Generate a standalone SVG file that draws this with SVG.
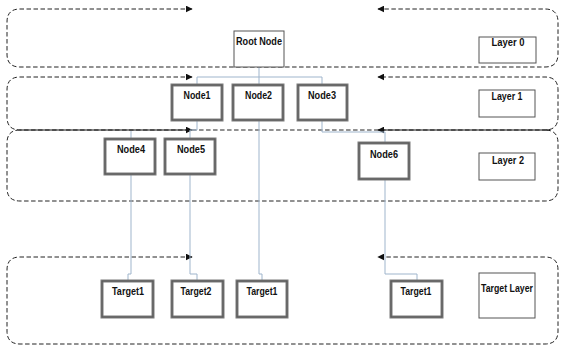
<svg xmlns="http://www.w3.org/2000/svg" width="561" height="345" viewBox="0 0 561 345">
<defs>
<marker id="ah" viewBox="0 0 10 10" refX="9" refY="5" markerWidth="7" markerHeight="7" markerUnits="userSpaceOnUse" orient="auto-start-reverse">
<path d="M0,0 L10,5 L0,10 Z" fill="#111"/>
</marker>
<style>
.layer{fill:none;stroke:#222;stroke-width:1;stroke-dasharray:4.5,2.5}
.solid{fill:none;stroke:#111;stroke-width:1}
.box{fill:#fff;stroke:#555;stroke-width:1}
.node{fill:#fff;stroke:#7a7a7a;stroke-width:3}
.nodein{fill:none;stroke:#444;stroke-width:0.6}
.conn{fill:none;stroke:#9fb5cc;stroke-width:1}
text{font-family:"Liberation Sans",Arial,sans-serif;font-weight:bold;font-size:11.5px;fill:#111;text-anchor:middle}
</style>
</defs>
<rect width="561" height="345" fill="#fff"/>
<g id="layers">
<path class="layer" d="M192,9 H20 Q7,9 7,22 V54 Q7,67 20,67 H545 Q558,67 558,54 V22 Q558,9 545,9 H378" marker-start="url(#ah)" marker-end="url(#ah)"/>
<path class="layer" d="M192,77 H20 Q7,77 7,90 V117 Q7,130 20,130 H545 Q558,130 558,117 V90 Q558,77 545,77 H378" marker-start="url(#ah)" marker-end="url(#ah)"/>
<path class="layer" d="M20,130 Q7,130 7,143 V188 Q7,201 20,201 H545 Q558,201 558,188 V143 Q558,130 545,130"/>
<path class="solid" d="M20,130 H192" marker-end="url(#ah)"/>
<path class="solid" d="M550,130 H378" marker-end="url(#ah)"/>
<path class="layer" d="M192,257 H20 Q7,257 7,270 V331 Q7,344 20,344 H545 Q558,344 558,331 V270 Q558,257 545,257 H378" marker-start="url(#ah)" marker-end="url(#ah)"/>
</g>
<g id="connectors">
<path class="conn" d="M259,67 V85"/>
<path class="conn" d="M197,85 V77 H322 V85"/>
<path class="conn" d="M197,120 V130 H190 V139"/>
<path class="conn" d="M131,131 V139"/>
<path class="conn" d="M322,120 V132 H385 V143"/>
<path class="conn" d="M131,174 V274 H128 V281"/>
<path class="conn" d="M190,174 V274 H197 V281"/>
<path class="conn" d="M259,120 V274 H262 V281"/>
<path class="conn" d="M385,179 V274 H417 V281"/>
</g>
<g id="root"><rect class="box" x="234" y="31" width="50" height="36"/><text x="259" y="45" textLength="46" lengthAdjust="spacingAndGlyphs">Root Node</text></g>
<g id="layer0"><rect class="box" x="479" y="37" width="57" height="26"/><text x="508" y="46" textLength="33" lengthAdjust="spacingAndGlyphs">Layer 0</text></g>
<g id="layer1"><rect class="box" x="479" y="90" width="56" height="27"/><text x="507" y="100" textLength="31" lengthAdjust="spacingAndGlyphs">Layer 1</text></g>
<g id="layer2"><rect class="box" x="479" y="153" width="56" height="27"/><text x="508" y="164" textLength="32" lengthAdjust="spacingAndGlyphs">Layer 2</text></g>
<g id="targetlayer"><rect class="box" x="479" y="273" width="56" height="45"/><text x="507" y="292" textLength="52" lengthAdjust="spacingAndGlyphs">Target Layer</text></g>
<g id="node1"><rect class="node" x="172" y="85" width="50" height="35"/><rect class="nodein" x="172" y="85" width="50" height="35"/><text x="197" y="99" textLength="27" lengthAdjust="spacingAndGlyphs">Node1</text></g>
<g id="node2"><rect class="node" x="233" y="85" width="50" height="35"/><rect class="nodein" x="233" y="85" width="50" height="35"/><text x="258.5" y="99" textLength="27" lengthAdjust="spacingAndGlyphs">Node2</text></g>
<g id="node3"><rect class="node" x="298" y="85" width="49" height="35"/><rect class="nodein" x="298" y="85" width="49" height="35"/><text x="322" y="99" textLength="28" lengthAdjust="spacingAndGlyphs">Node3</text></g>
<g id="node4"><rect class="node" x="105" y="139" width="50" height="35"/><rect class="nodein" x="105" y="139" width="50" height="35"/><text x="131" y="153" textLength="28" lengthAdjust="spacingAndGlyphs">Node4</text></g>
<g id="node5"><rect class="node" x="165" y="139" width="50" height="35"/><rect class="nodein" x="165" y="139" width="50" height="35"/><text x="191" y="153" textLength="28" lengthAdjust="spacingAndGlyphs">Node5</text></g>
<g id="node6"><rect class="node" x="359" y="143" width="50" height="36"/><rect class="nodein" x="359" y="143" width="50" height="36"/><text x="384" y="158" textLength="28" lengthAdjust="spacingAndGlyphs">Node6</text></g>
<g id="target1a"><rect class="node" x="102" y="281" width="51" height="36"/><rect class="nodein" x="102" y="281" width="51" height="36"/><text x="128" y="295" textLength="32" lengthAdjust="spacingAndGlyphs">Target1</text></g>
<g id="target2"><rect class="node" x="172" y="281" width="51" height="36"/><rect class="nodein" x="172" y="281" width="51" height="36"/><text x="196" y="295" textLength="31" lengthAdjust="spacingAndGlyphs">Target2</text></g>
<g id="target1b"><rect class="node" x="237" y="281" width="50" height="36"/><rect class="nodein" x="237" y="281" width="50" height="36"/><text x="262" y="295" textLength="31" lengthAdjust="spacingAndGlyphs">Target1</text></g>
<g id="target1c"><rect class="node" x="391" y="281" width="51" height="36"/><rect class="nodein" x="391" y="281" width="51" height="36"/><text x="416" y="295" textLength="31" lengthAdjust="spacingAndGlyphs">Target1</text></g>
</svg>
